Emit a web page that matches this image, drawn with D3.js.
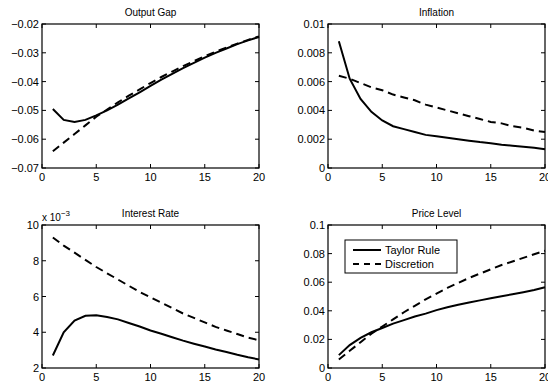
<!DOCTYPE html>
<html>
<head>
<meta charset="utf-8">
<script src="https://cdn.jsdelivr.net/npm/d3@7"></script>
<style>
  body { margin: 0; background: #fff; }
  svg { display: block; font-family: 'Liberation Sans', Arial, sans-serif; }
</style>
</head>
<body>
<svg id="chart" width="548" height="384"></svg>
<script>
const periods = d3.range(1, 21);

const gapTaylor = [-0.0495, -0.0533, -0.0540, -0.0533, -0.0517, -0.0500, -0.0480, -0.0458, -0.0437, -0.0415,
  -0.0393, -0.0373, -0.0353, -0.0335, -0.0317, -0.0300, -0.0285, -0.0270, -0.0257, -0.0245];
const gapDiscretion = [-0.0642, -0.0612, -0.0582, -0.0552, -0.0522, -0.0497, -0.0472, -0.0449, -0.0427, -0.0405,
  -0.0384, -0.0365, -0.0346, -0.0329, -0.0312, -0.0296, -0.0282, -0.0268, -0.0255, -0.0243];

const inflTaylor = [0.0088, 0.0062, 0.0048, 0.0039, 0.0033, 0.0029, 0.0027, 0.0025, 0.0023, 0.0022,
  0.0021, 0.0020, 0.0019, 0.0018, 0.00172, 0.00162, 0.00155, 0.00148, 0.0014, 0.0013];
const inflDiscretion = [0.0064, 0.0062, 0.0059, 0.0056, 0.0054, 0.0051, 0.0049, 0.0047, 0.0044, 0.0042,
  0.0040, 0.0038, 0.0036, 0.0034, 0.0032, 0.0031, 0.0029, 0.0028, 0.0026, 0.0025];

// interest rate in units of 1e-3
const rateTaylor = [2.7, 4.0, 4.65, 4.92, 4.95, 4.85, 4.72, 4.52, 4.32, 4.1,
  3.92, 3.72, 3.53, 3.36, 3.2, 3.04, 2.9, 2.74, 2.6, 2.48];
const rateDiscretion = [9.3, 8.85, 8.45, 8.05, 7.65, 7.3, 6.95, 6.6, 6.25, 5.95,
  5.65, 5.35, 5.05, 4.8, 4.55, 4.3, 4.1, 3.9, 3.7, 3.55];

const priceTaylor = [0.009, 0.016, 0.021, 0.025, 0.028, 0.031, 0.0335, 0.036, 0.038, 0.0405,
  0.0425, 0.0442, 0.0458, 0.0473, 0.0488, 0.0502, 0.0516, 0.053, 0.0545, 0.0565];
const priceDiscretion = [0.006, 0.012, 0.018, 0.024, 0.029, 0.034, 0.039, 0.0435, 0.048, 0.052,
  0.056, 0.0595, 0.063, 0.066, 0.069, 0.072, 0.0745, 0.077, 0.0795, 0.082];

const xTicks = [0, 5, 10, 15, 20];
const legendLabels = ['Taylor Rule', 'Discretion'];

const panels = [
  { title: 'Output Gap', box: [42, 24, 259, 168], domain: [-0.07, -0.02],
    ticks: [-0.07, -0.06, -0.05, -0.04, -0.03, -0.02], fmt: (d) => (d < 0 ? '\u2212' : '') + Math.abs(d).toFixed(2),
    series: [gapTaylor, gapDiscretion] },
  { title: 'Inflation', box: [328, 24, 545, 168], domain: [0, 0.01],
    ticks: [0, 0.002, 0.004, 0.006, 0.008, 0.01], fmt: (d) => d === 0 ? '0' : String(+d.toFixed(3)),
    series: [inflTaylor, inflDiscretion] },
  { title: 'Interest Rate', box: [42, 225, 259, 368], domain: [2, 10],
    ticks: [2, 4, 6, 8, 10], fmt: (d) => String(d), exponent: true,
    series: [rateTaylor, rateDiscretion] },
  { title: 'Price Level', box: [328, 225, 545, 368], domain: [0, 0.1],
    ticks: [0, 0.02, 0.04, 0.06, 0.08, 0.1], fmt: (d) => d === 0 ? '0' : String(+d.toFixed(2)),
    series: [priceTaylor, priceDiscretion], legend: true }
];

const svg = d3.select('#chart');
const dashes = [null, '8 5'];

panels.forEach((p) => {
  const [x0, y0, x1, y1] = p.box;
  const x = d3.scaleLinear().domain([0, 20]).range([x0, x1]);
  const y = d3.scaleLinear().domain(p.domain).range([y1, y0]);
  const g = svg.append('g');

  // tick marks inside the box, on all four sides
  const tl = 4;
  xTicks.forEach((t) => {
    g.append('line').attr('x1', x(t)).attr('x2', x(t)).attr('y1', y1).attr('y2', y1 - tl).attr('stroke', '#000');
    g.append('line').attr('x1', x(t)).attr('x2', x(t)).attr('y1', y0).attr('y2', y0 + tl).attr('stroke', '#000');
    g.append('text').attr('x', x(t)).attr('y', y1 + 13).attr('text-anchor', 'middle')
      .attr('font-size', 11).text(t);
  });
  p.ticks.forEach((t) => {
    g.append('line').attr('x1', x0).attr('x2', x0 + tl).attr('y1', y(t)).attr('y2', y(t)).attr('stroke', '#000');
    g.append('line').attr('x1', x1).attr('x2', x1 - tl).attr('y1', y(t)).attr('y2', y(t)).attr('stroke', '#000');
    g.append('text').attr('x', x0 - 3).attr('y', y(t) + 4).attr('text-anchor', 'end')
      .attr('font-size', 11).text(p.fmt(t));
  });

  const line = d3.line().x((d, i) => x(periods[i])).y((d) => y(d));
  p.series.forEach((s, i) => {
    g.append('path').datum(s).attr('d', line).attr('fill', 'none')
      .attr('stroke', '#000').attr('stroke-width', 2)
      .attr('stroke-dasharray', dashes[i]);
  });

  g.append('rect').attr('x', x0).attr('y', y0).attr('width', x1 - x0).attr('height', y1 - y0)
    .attr('fill', 'none').attr('stroke', '#000').attr('stroke-width', 1.2);

  g.append('text').attr('x', (x0 + x1) / 2).attr('y', y0 - 8).attr('text-anchor', 'middle')
    .attr('font-size', 10).text(p.title);

  if (p.exponent) {
    const ex = g.append('text').attr('x', x0).attr('y', y0 - 4).attr('font-size', 10);
    ex.append('tspan').text('x 10');
    ex.append('tspan').attr('dy', -5).attr('font-size', 8).text('\u22123');
  }

  if (p.legend) {
    const lx = 345, ly = 240, lw = 112, lh = 33;
    g.append('rect').attr('x', lx).attr('y', ly).attr('width', lw).attr('height', lh)
      .attr('fill', '#fff').attr('stroke', '#000').attr('stroke-width', 1);
    legendLabels.forEach((lab, i) => {
      const yy = ly + 10 + i * 14;
      g.append('line').attr('x1', lx + 8).attr('x2', lx + 36).attr('y1', yy).attr('y2', yy)
        .attr('stroke', '#000').attr('stroke-width', 2)
        .attr('stroke-dasharray', i ? '6 5' : null);
      g.append('text').attr('x', lx + 40).attr('y', yy + 4).attr('font-size', 11).text(lab);
    });
  }
});
</script>
</body>
</html>
